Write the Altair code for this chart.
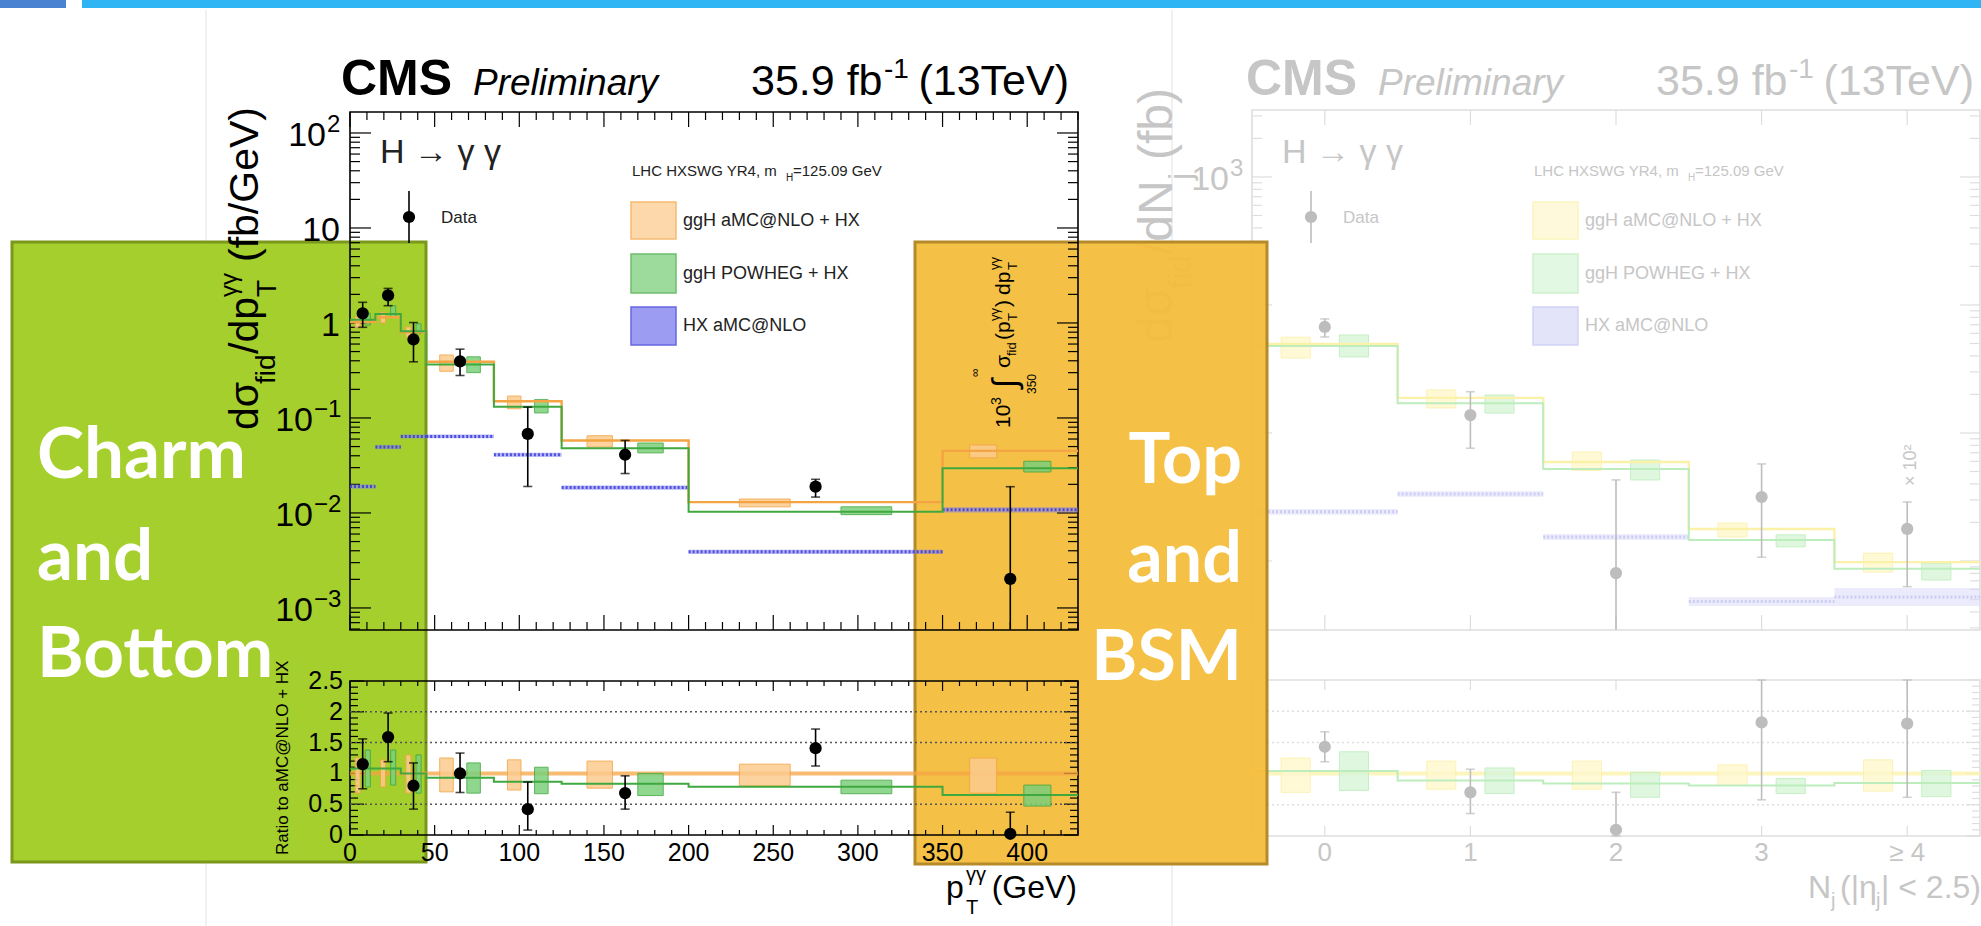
import math
import altair as alt
import pandas as pd

# ===================== data =====================
# --- left: pT(gamma gamma) spectrum ---
PT_EDGES = [0, 15, 30, 45, 85, 125, 200, 350, 430]
PT_DATA_X = [7.5, 22.5, 37.5, 65, 105, 162.5, 275, 390]
PT_DATA_Y = [1.26, 1.95, 0.67, 0.394, 0.068, 0.041, 0.0189, 0.00202]
PT_DATA_HI = [1.65, 2.31, 1.01, 0.53, 0.13, 0.058, 0.0226, 0.0189]
PT_DATA_LO = [0.90, 1.52, 0.39, 0.28, 0.019, 0.026, 0.0147, 0.0006]
PT_AMC = [1.02, 1.15, 0.80, 0.39, 0.150, 0.058, 0.0130, 0.045]
PT_AMC_HI = [1.16, 1.30, 0.91, 0.46, 0.170, 0.065, 0.0140, 0.052]
PT_AMC_LO = [0.885, 1.00, 0.71, 0.31, 0.125, 0.0495, 0.0116, 0.038]
PT_POW = [1.08, 1.24, 0.82, 0.365, 0.131, 0.048, 0.0103, 0.0295]
PT_POW_HI = [1.27, 1.52, 0.98, 0.44, 0.156, 0.0545, 0.0116, 0.035]
PT_POW_LO = [0.95, 1.16, 0.77, 0.30, 0.113, 0.0429, 0.0096, 0.027]
PT_HX_HI = [0.020, 0.052, 0.067, 0.067, 0.043, 0.0195, 0.0041, 0.0115]
PT_HX_LO = [0.018, 0.047, 0.061, 0.061, 0.039, 0.0176, 0.0037, 0.0101]

RATIO_DATA = [1.15, 1.59, 0.80, 1.00, 0.42, 0.68, 1.41, 0.02]
RATIO_DATA_HI = [1.56, 1.98, 1.17, 1.33, 0.86, 0.96, 1.72, 0.37]
RATIO_DATA_LO = [0.75, 1.19, 0.42, 0.69, 0.08, 0.42, 1.12, 0.0]
RATIO_AMC_HI = [1.25, 1.22, 1.30, 1.25, 1.22, 1.20, 1.15, 1.25]
RATIO_AMC_LO = [0.68, 0.78, 0.68, 0.70, 0.73, 0.76, 0.80, 0.68]
RATIO_POW = [1.08, 1.08, 1.00, 0.93, 0.865, 0.83, 0.785, 0.65]
RATIO_POW_HI = [1.38, 1.38, 1.30, 1.17, 1.10, 1.00, 0.89, 0.81]
RATIO_POW_LO = [0.78, 0.81, 0.68, 0.68, 0.67, 0.64, 0.67, 0.47]

PT_TICKS = [0, 50, 100, 150, 200, 250, 300, 350, 400]
PT_TICK_LABELS = ['0', '50', '100', '150', '200', '250', '300', '350', '400']
RATIO_TICKS = [0, 0.5, 1, 1.5, 2, 2.5]
RATIO_TICK_LABELS = ['0', '0.5', '1', '1.5', '2', '2.5']

# --- right: jet multiplicity (faded) ---
NJ_X = [0, 1, 2, 3, 4]
NJ_EDGES = [-0.5, 0.5, 1.5, 2.5, 3.5, 4.5]
NJ_TICK_LABELS = ['0', '1', '2', '3', '≥ 4']
NJ_DATA = [67.3, 13.8, 0.805, 3.16, 1.78]
NJ_DATA_HI = [77.8, 21.0, 4.3, 5.73, 2.89]
NJ_DATA_LO = [56.2, 7.6, 0.29, 1.07, 0.63]
NJ_AMC = [49.6, 18.8, 5.93, 1.78, 0.98]
NJ_AMC_HI = [56.0, 21.7, 7.1, 1.98, 1.15]
NJ_AMC_LO = [38.5, 15.7, 5.1, 1.54, 0.82]
NJ_POW = [47.9, 17.1, 5.23, 1.46, 0.87]
NJ_POW_HI = [58.3, 19.8, 6.15, 1.60, 0.96]
NJ_POW_LO = [39.3, 14.3, 4.3, 1.29, 0.71]
NJ_HX_HI = [2.55, 3.50, 1.62, 0.523, 0.615]
NJ_HX_LO = [2.30, 3.17, 1.46, 0.445, 0.445]
NJ_RATIO_DATA = [1.43, 0.70, 0.10, 1.82, 1.80]
NJ_RATIO_DATA_HI = [1.67, 1.07, 0.70, 2.5, 2.5]
NJ_RATIO_DATA_LO = [1.19, 0.36, 0.0, 0.58, 0.62]
NJ_RATIO_AMC_HI = [1.25, 1.20, 1.20, 1.14, 1.22]
NJ_RATIO_AMC_LO = [0.70, 0.75, 0.75, 0.81, 0.72]
NJ_RATIO_POW = [1.04, 0.89, 0.84, 0.81, 0.85]
NJ_RATIO_POW_HI = [1.35, 1.09, 1.02, 0.92, 1.05]
NJ_RATIO_POW_LO = [0.73, 0.68, 0.62, 0.68, 0.63]

LEGEND_ITEMS = ['ggH aMC@NLO + HX', 'ggH POWHEG + HX', 'HX aMC@NLO']
OVERLAY_LEFT = ['Charm', 'and', 'Bottom']
OVERLAY_RIGHT = ['Top', 'and', 'BSM']

# ===================== layout / style =====================
SANS = 'Liberation Sans'
LX0, LX1 = 350, 1078
UY0, UY1 = 112, 630
RY0, RY1 = 681, 835
SHIFT = 902  # right chart legend is the same layout shifted right

XP = alt.Scale(domain=[0, 430], range=[LX0, LX1], nice=False, zero=False)
YU = alt.Scale(type='log', domain=[5.86e-4, 166.3], range=[UY1, UY0], nice=False)
YL = alt.Scale(domain=[0, 2.5], range=[RY1, RY0], nice=False, zero=False)
NX0, NX1 = 1252, 1980
XN = alt.Scale(domain=[-0.5, 4.5], range=[NX0, NX1], nice=False, zero=False)
YNU = alt.Scale(type='log', domain=[0.289, 3334], range=[630, 110], nice=False)
YNL = alt.Scale(domain=[0, 2.5], range=[836, 680], nice=False, zero=False)

C_ORANGE_LINE = '#F4A443'
C_ORANGE_FILL = '#FCCB8E'
C_GREEN_LINE = '#3FA83F'
C_GREEN_FILL = '#7CCF7C'
C_BLUE = '#7C7CF0'
C_BLUE_HATCH = '#3434D8'

F_TEXT = '#C6C6C6'
F_DATA = '#BDBDBD'
F_FRAME = '#DEDEDE'
F_ORANGE = '#FBF1A8'
F_ORANGE_FILL = '#FFF8CF'
F_GREEN = '#BDEDBD'
F_GREEN_FILL = '#D9F6D9'
F_BLUE = '#DADAF9'
F_BLUE_HATCH = '#C4C4F2'

L = []


def xq(f, s):
    return alt.X(f, type='quantitative', scale=s, axis=None)


def yq(f, s):
    return alt.Y(f, type='quantitative', scale=s, axis=None)


def one():
    return alt.Chart(pd.DataFrame({'a': [0]}))


def prect(x1, x2, y1, y2, **kw):
    return one().mark_rect(**kw).encode(x=alt.value(x1), x2=alt.value(x2),
                                        y=alt.value(y1), y2=alt.value(y2))


def prule(x1, x2, y1, y2, **kw):
    return one().mark_rule(**kw).encode(x=alt.value(x1), x2=alt.value(x2),
                                        y=alt.value(y1), y2=alt.value(y2))


def T(s, x, y, size, color='black', align='left', baseline='alphabetic', font=SANS,
      weight=None, style=None, angle=None, dx=None, dy=None):
    kw = dict(fontSize=size, color=color, align=align, baseline=baseline, font=font)
    if weight:
        kw['fontWeight'] = weight
    if style:
        kw['fontStyle'] = style
    if angle is not None:
        kw['angle'] = angle
    if dx:
        kw['dx'] = dx
    if dy:
        kw['dy'] = dy
    return alt.Chart(pd.DataFrame({'t': [s]})).mark_text(**kw).encode(
        x=alt.value(x), y=alt.value(y), text='t:N')


def rot(x, y, pieces, color):
    out = []
    for s, size, dx, dy in pieces:
        out.append(T(s, x, y, size, color=color, angle=270, dx=dx, dy=dy))
    return out


def xticks(vals, scale, ybase, length, direction, color, w=1.2):
    return alt.Chart(pd.DataFrame({'v': vals})).mark_rule(color=color, strokeWidth=w).encode(
        x=xq('v', scale), y=alt.value(ybase), y2=alt.value(ybase + direction * length))


def yticks(vals, scale, xbase, length, direction, color, w=1.2):
    return alt.Chart(pd.DataFrame({'v': vals})).mark_rule(color=color, strokeWidth=w).encode(
        y=yq('v', scale), x=alt.value(xbase), x2=alt.value(xbase + direction * length))


def log_ticks(lo, hi):
    majors = [10.0 ** e for e in range(-4, 5) if lo <= 10.0 ** e <= hi]
    minors = [k * 10.0 ** e for e in range(-4, 5) for k in range(2, 10) if lo <= k * 10.0 ** e <= hi]
    return majors, minors


def bins_df(edges, **cols):
    lo = edges[:-1]
    hi = edges[1:]
    d = {'lo': lo, 'hi': hi}
    d['olo'] = [a + 0.2 * (b - a) for a, b in zip(lo, hi)]
    d['ohi'] = [a + 0.4 * (b - a) for a, b in zip(lo, hi)]
    d['glo'] = [a + 0.6 * (b - a) for a, b in zip(lo, hi)]
    d['ghi'] = [a + 0.8 * (b - a) for a, b in zip(lo, hi)]
    d.update(cols)
    return pd.DataFrame(d)


def step_df(edges, vals):
    return pd.DataFrame({'x': edges, 'y': list(vals) + [vals[-1]]})


def histo_panel(edges, xs, xscale, yscale, amc, amc_lo, amc_hi, pw, pw_lo, pw_hi,
                hx_lo, hx_hi, dat, dat_lo, dat_hi, cols, caps_lo, flat=None):
    c_ol, c_of, c_gl, c_gf, c_b, c_bh, c_d = cols
    out = []
    b = bins_df(edges, alo=amc_lo, ahi=amc_hi, plo=pw_lo, phi=pw_hi)
    if hx_lo is not None:
        mid = [math.sqrt(a * c) for a, c in zip(hx_lo, hx_hi)]
        bh = bins_df(edges, ylo=hx_lo, yhi=hx_hi, ymid=mid)
        out.append(alt.Chart(bh).mark_rect(color=c_b, opacity=0.55).encode(
            x=xq('lo', xscale), x2='hi:Q', y=yq('ylo', yscale), y2='yhi:Q'))
        out.append(alt.Chart(bh).mark_rule(color=c_bh, strokeWidth=3, strokeDash=[2, 2],
                                           opacity=0.8).encode(
            x=xq('lo', xscale), x2='hi:Q', y=yq('ymid', yscale)))
    if flat is not None:
        out.append(alt.Chart(pd.DataFrame({'x': [edges[0]], 'x2': [edges[-1]], 'y': [flat]}))
                   .mark_rule(color=c_ol, strokeWidth=4, opacity=0.75).encode(
            x=xq('x', xscale), x2='x2:Q', y=yq('y', yscale)))
    out.append(alt.Chart(b).mark_rect(color=c_of, opacity=0.85, stroke=c_ol, strokeWidth=1).encode(
        x=xq('olo', xscale), x2='ohi:Q', y=yq('alo', yscale), y2='ahi:Q'))
    out.append(alt.Chart(b).mark_rect(color=c_gf, opacity=0.85, stroke=c_gl, strokeWidth=1).encode(
        x=xq('glo', xscale), x2='ghi:Q', y=yq('plo', yscale), y2='phi:Q'))
    if amc is not None:
        out.append(alt.Chart(step_df(edges, amc)).mark_line(
            interpolate='step-after', color=c_ol, strokeWidth=2.4).encode(
            x=xq('x', xscale), y=yq('y', yscale)))
    out.append(alt.Chart(step_df(edges, pw)).mark_line(
        interpolate='step-after', color=c_gl, strokeWidth=2).encode(
        x=xq('x', xscale), y=yq('y', yscale)))
    dd = pd.DataFrame({'x': xs, 'y': dat, 'lo': dat_lo, 'hi': dat_hi})
    out.append(alt.Chart(dd).mark_rule(color=c_d, strokeWidth=1.6).encode(
        x=xq('x', xscale), y=yq('lo', yscale), y2='hi:Q'))
    out.append(alt.Chart(dd).mark_tick(orient='horizontal', size=9, thickness=1.6, color=c_d).encode(
        x=xq('x', xscale), y=yq('hi', yscale)))
    dl = dd[[bool(c) for c in caps_lo]]
    out.append(alt.Chart(dl).mark_tick(orient='horizontal', size=9, thickness=1.6, color=c_d).encode(
        x=xq('x', xscale), y=yq('lo', yscale)))
    out.append(alt.Chart(dd).mark_circle(size=150, color=c_d, opacity=1).encode(
        x=xq('x', xscale), y=yq('y', yscale)))
    return out


def frame_ticks(xscale, x0, x1, y0, y1, xmaj, xmin, yscale, ymaj, ymin, lens, color):
    xl_maj, xl_min, yl_maj, yl_min = lens
    out = [prect(x0, x1, y0, y1, fill='white', fillOpacity=0, stroke=color, strokeWidth=1.6)]
    out.append(xticks(xmaj, xscale, y1, xl_maj, -1, color))
    out.append(xticks(xmaj, xscale, y0, xl_maj, 1, color))
    if xmin:
        out.append(xticks(xmin, xscale, y1, xl_min, -1, color))
        out.append(xticks(xmin, xscale, y0, xl_min, 1, color))
    out.append(yticks(ymaj, yscale, x0, yl_maj, 1, color))
    out.append(yticks(ymaj, yscale, x1, yl_maj, -1, color))
    out.append(yticks(ymin, yscale, x0, yl_min, 1, color))
    out.append(yticks(ymin, yscale, x1, yl_min, -1, color))
    return out


def ylab(vals, texts, yscale, x, size, color, align='right', dy=None):
    kw = dict(fontSize=size, color=color, align=align, baseline='middle', font=SANS)
    if dy:
        kw['dy'] = dy
    return alt.Chart(pd.DataFrame({'v': vals, 't': texts})).mark_text(**kw).encode(
        x=alt.value(x), y=yq('v', yscale), text='t:N')


def xlab(vals, texts, xscale, y, size, color):
    return alt.Chart(pd.DataFrame({'v': vals, 't': texts})).mark_text(
        fontSize=size, color=color, align='center', baseline='middle', font=SANS).encode(
        x=xq('v', xscale), y=alt.value(y), text='t:N')


def legend(dx, cols, tcol):
    c_ol, c_of, c_gl, c_gf, c_b, c_bh, c_d = cols
    out = []
    out.append(T('H → γ γ', 380 + dx, 163, 34, color=tcol))
    out.append(prule(409 + dx, 409 + dx, 191, 243, color=c_d, strokeWidth=1.6))
    out.append(one().mark_circle(size=150, color=c_d, opacity=1).encode(
        x=alt.value(409 + dx), y=alt.value(217)))
    out.append(T('Data', 441 + dx, 218, 17, color=tcol, baseline='middle'))
    out.append(T('LHC HXSWG YR4, m', 632 + dx, 176, 15, color=tcol))
    out.append(T('H', 786 + dx, 181, 10, color=tcol))
    out.append(T('=125.09 GeV', 793 + dx, 176, 15, color=tcol))
    boxes = [(202, 239, c_of, c_ol), (254, 293, c_gf, c_gl), (307, 345, c_b, c_bh)]
    for (y1, y2, f, s), lab in zip(boxes, LEGEND_ITEMS):
        out.append(prect(631 + dx, 676 + dx, y1, y2, fill=f, stroke=s, strokeWidth=1.5, opacity=0.75))
        out.append(T(lab, 683 + dx, (y1 + y2) / 2, 18, color=tcol, baseline='middle'))
    return out


def header(dx, color, right_end):
    return [T('CMS', 341 + dx, 95, 50, color=color, weight='bold'),
            T('Preliminary', 473 + dx, 95, 37, color=color, style='italic'),
            T('35.9 fb', 751 + dx, 95, 43, color=color),
            T('-1', 884 + dx, 78, 28, color=color),
            T('(13TeV)', right_end, 95, 43, color=color, align='right')]


# ===================== slide decorations =====================
L.append(prect(82, 1981, 0, 8, color='#2FB5F4'))
L.append(prect(0, 66, 0, 8, color='#4A82D2'))
L.append(prule(206, 206, 10, 926, color='#E2E2E2', strokeWidth=1))
L.append(prule(1172, 1172, 10, 926, color='#E2E2E2', strokeWidth=1))

# ===================== right chart (faded) =====================
FCOLS = (F_ORANGE, F_ORANGE_FILL, F_GREEN, F_GREEN_FILL, F_BLUE, F_BLUE_HATCH, F_DATA)
nmaj, nmin = log_ticks(0.289, 3334)
L += frame_ticks(XN, NX0, NX1, 110, 630, NJ_X, [], YNU, nmaj, nmin, (15, 8, 20, 10), F_FRAME)
rmin = [i / 10 for i in range(26) if i % 5]
L += frame_ticks(XN, NX0, NX1, 680, 836, NJ_X, [], YNL, RATIO_TICKS, rmin, (10, 5, 14, 8), F_FRAME)
L.append(alt.Chart(pd.DataFrame({'y': [0.5, 1.5, 2.0]})).mark_rule(
    color=F_FRAME, strokeDash=[2, 3], strokeWidth=1.5).encode(
    y=yq('y', YNL), x=alt.value(NX0), x2=alt.value(NX1)))
L += histo_panel(NJ_EDGES, NJ_X, XN, YNU, NJ_AMC, NJ_AMC_LO, NJ_AMC_HI, NJ_POW, NJ_POW_LO,
                 NJ_POW_HI, NJ_HX_LO, NJ_HX_HI, NJ_DATA, NJ_DATA_LO, NJ_DATA_HI, FCOLS,
                 [1, 1, 0, 1, 1])
L += histo_panel(NJ_EDGES, NJ_X, XN, YNL, None, NJ_RATIO_AMC_LO, NJ_RATIO_AMC_HI, NJ_RATIO_POW,
                 NJ_RATIO_POW_LO, NJ_RATIO_POW_HI, None, None, NJ_RATIO_DATA, NJ_RATIO_DATA_LO,
                 NJ_RATIO_DATA_HI, FCOLS, [1, 1, 1, 1, 1], flat=1.0)
L += header(905, F_TEXT, 1974)
L += legend(SHIFT, FCOLS, F_TEXT)
L.append(ylab([1000], ['10'], YNU, 1229, 34, F_TEXT, dy=3))
L.append(ylab([1000], ['3'], YNU, 1230, 24, F_TEXT, align='left', dy=-8))
L.append(xlab(NJ_X, NJ_TICK_LABELS, XN, 853, 26, F_TEXT))
L += [T('N', 1808, 898, 32, color=F_TEXT), T('j', 1831, 907, 20, color=F_TEXT),
      T('(|η', 1840, 898, 32, color=F_TEXT), T('j', 1876, 907, 20, color=F_TEXT),
      T('| < 2.5)', 1981, 898, 32, color=F_TEXT, align='right')]
L += rot(1172, 343, [('dσ', 48, 0, 0), ('fid', 32, 54, 19), ('/dN', 48, 88, 0),
                     ('j', 32, 163, 19), ('(fb)', 48, 183, 0)], F_TEXT)
L.append(T('× 10²', 1916, 486, 18, color=F_TEXT, angle=270))

# ===================== overlay boxes =====================
L.append(prect(12, 426, 242, 862, fill='#A0CC22', fillOpacity=0.95, stroke='#7A981C', strokeWidth=3))
L.append(prect(915, 1267, 242, 864, fill='#F4BD3C', fillOpacity=0.95, stroke='#B58A2A', strokeWidth=3))

# ===================== left chart =====================
COLS = (C_ORANGE_LINE, C_ORANGE_FILL, C_GREEN_LINE, C_GREEN_FILL, C_BLUE, C_BLUE_HATCH, 'black')
umaj, umin = log_ticks(5.86e-4, 166.3)
pmin = [v for v in range(0, 431, 10) if v % 50]
L += frame_ticks(XP, LX0, LX1, UY0, UY1, PT_TICKS, pmin, YU, umaj, umin, (15, 8, 21, 10), 'black')
L += frame_ticks(XP, LX0, LX1, RY0, RY1, PT_TICKS, pmin, YL, RATIO_TICKS, rmin, (10, 5, 14, 8), 'black')
L.append(alt.Chart(pd.DataFrame({'y': [0.5, 1.5, 2.0]})).mark_rule(
    color='#555555', strokeDash=[2, 3], strokeWidth=1.5).encode(
    y=yq('y', YL), x=alt.value(LX0), x2=alt.value(LX1)))
L += histo_panel(PT_EDGES, PT_DATA_X, XP, YU, PT_AMC, PT_AMC_LO, PT_AMC_HI, PT_POW, PT_POW_LO,
                 PT_POW_HI, PT_HX_LO, PT_HX_HI, PT_DATA_Y, PT_DATA_LO, PT_DATA_HI, COLS,
                 [1, 1, 1, 1, 1, 1, 1, 0])
L += histo_panel(PT_EDGES, PT_DATA_X, XP, YL, None, RATIO_AMC_LO, RATIO_AMC_HI, RATIO_POW,
                 RATIO_POW_LO, RATIO_POW_HI, None, None, RATIO_DATA, RATIO_DATA_LO, RATIO_DATA_HI,
                 COLS, [1, 1, 1, 1, 1, 1, 1, 0], flat=1.0)
L += header(0, 'black', 1069)
L += legend(0, COLS, '#222222')

# y tick labels (upper)
L.append(ylab([100], ['10'], YU, 326, 34, 'black', dy=3))
L.append(ylab([100], ['2'], YU, 327, 24, 'black', align='left', dy=-8))
L.append(ylab([0.1, 0.01, 0.001], ['10', '10', '10'], YU, 313, 34, 'black', dy=3))
L.append(ylab([0.1, 0.01, 0.001], ['−1', '−2', '−3'], YU, 314, 24, 'black', align='left', dy=-8))
L.append(ylab([10, 1], ['10', '1'], YU, 340, 34, 'black', dy=3))
# y tick labels (ratio)
L.append(ylab(RATIO_TICKS, RATIO_TICK_LABELS, YL, 343, 25, 'black'))
# x tick labels
L.append(xlab(PT_TICKS, PT_TICK_LABELS, XP, 853, 25, 'black'))

# axis titles
L += rot(258, 430, [('dσ', 41, 0, 0), ('fid', 28, 46, 17), ('/dp', 41, 76, 0),
                    ('T', 28, 133, 18), ('γγ', 24, 133, -21), ('(fb/GeV)', 41, 168, 0)], 'black')
L.append(T('Ratio to aMC@NLO + HX', 288, 855, 17, angle=270))
L += [T('p', 946, 898, 32), T('γγ', 966, 881, 20), T('T', 966, 914, 20),
      T('(GeV)', 1077, 898, 32, align='right')]
# integral label in the last bin
L += rot(1010, 428, [('10', 21, 0, 0), ('3', 14, 23, -9), ('∫', 34, 40, 6), ('∞', 12, 51, -31),
                     ('350', 12, 34, 26), ('σ', 21, 60, 0), ('fid', 13, 72, 6), ('(p', 21, 88, 0),
                     ('T', 13, 107, 7), ('γγ', 13, 107, -11), (')', 21, 121, 0), ('dp', 21, 133, 0),
                     ('T', 13, 158, 7), ('γγ', 13, 158, -11)], 'black')

# ===================== overlay texts =====================
for s, yb in zip(OVERLAY_LEFT, [478, 580, 677]):
    L.append(T(s, 37, yb, 71, color='white', font='Lato', weight='bold'))
for s, yb in zip(OVERLAY_RIGHT, [483, 582, 680]):
    L.append(T(s, 1242, yb, 70, color='white', font='Lato', weight='bold', align='right'))

chart = alt.layer(*L).resolve_scale(x='independent', y='independent').properties(
    width=1981, height=926, autosize=alt.AutoSizeParams(type='none'), padding=0,
    background='white').configure_view(strokeWidth=0)

chart.save('out.html', embed_options={'renderer': 'svg', 'actions': False})
